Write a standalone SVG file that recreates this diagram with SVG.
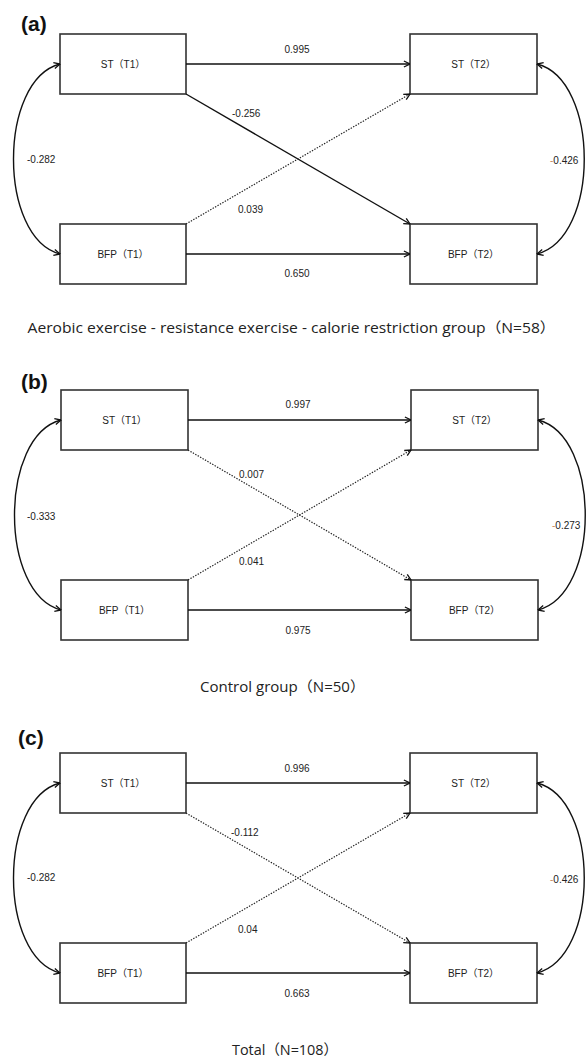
<svg xmlns="http://www.w3.org/2000/svg" width="587" height="1064" viewBox="0 0 587 1064">
<style>
text{font-family:"Liberation Sans","Noto Sans CJK SC",sans-serif;fill:#222}
.box{fill:#fff;stroke:#333;stroke-width:1.6}
.nl{font-size:10px;text-anchor:middle}
.el{font-size:10px}
.elm{font-size:10px;text-anchor:middle}
.cap{font-family:"Open Sans","Noto Sans CJK SC",sans-serif;font-size:14.5px;text-anchor:middle}
.pl{font-size:21px;font-weight:bold;fill:#111}
.solid{fill:none;stroke:#111;stroke-width:1.4}
.dot{fill:none;stroke:#222;stroke-width:1.2;stroke-dasharray:1.4 1.4}
.arrS{marker-end:url(#arr)}
.arrD{marker-end:url(#arr)}
.curve{fill:none;stroke:#111;stroke-width:1.4;marker-start:url(#arr);marker-end:url(#arr)}
.neg{fill:#c98a5c}
</style>
<defs>
<marker id="arr" viewBox="0 0 8 8" refX="7.6" refY="4" markerWidth="8" markerHeight="8" markerUnits="userSpaceOnUse" orient="auto-start-reverse">
<path d="M1.5,1 L7.6,4 L1.5,7" fill="none" stroke="#111" stroke-width="1.3"/>
</marker>
</defs>

<!-- Panel (a) -->
<text class="pl" x="21" y="31">(a)</text>
<g id="a-st1"><rect class="box" x="60" y="34" width="126" height="60"/><text class="nl" x="123" y="67.5">ST（T1）</text></g>
<g id="a-st2"><rect class="box" x="410" y="34" width="127" height="60"/><text class="nl" x="473.5" y="67.5">ST（T2）</text></g>
<g id="a-bfp1"><rect class="box" x="60" y="224" width="126" height="60"/><text class="nl" x="123" y="257.5">BFP（T1）</text></g>
<g id="a-bfp2"><rect class="box" x="410" y="224" width="127" height="60"/><text class="nl" x="473.5" y="257.5">BFP（T2）</text></g>
<g id="a-connectors">
<path class="solid arrS" d="M186,64 L410,64"/>
<path class="solid arrS" d="M186,254 L410,254"/>
<path class="solid arrS" d="M186,94 L410,224"/>
<path class="dot arrD" d="M186,224 L410,94"/>
<path class="curve" d="M60,64 C -2,80 -2,238 60,254"/>
<path class="curve" d="M537,64 C 600,80 600,238 537,254"/>
<text class="elm" x="297" y="53">0.995</text>
<text class="elm" x="297" y="277">0.650</text>
<text class="el" x="232" y="117">-0.256</text>
<text class="el" x="238" y="213">0.039</text>
<text class="el" x="27" y="163">-0.282</text>
<text class="el" x="550" y="164"><tspan class="neg">-</tspan>0.426</text>
</g>
<text class="cap" x="291.5" y="333" textLength="528" lengthAdjust="spacingAndGlyphs">Aerobic exercise - resistance exercise - calorie restriction group（N=58）</text>

<!-- Panel (b) -->
<text class="pl" x="21" y="389">(b)</text>
<g id="b-st1"><rect class="box" x="61" y="390" width="127" height="60"/><text class="nl" x="124.5" y="423.5">ST（T1）</text></g>
<g id="b-st2"><rect class="box" x="411" y="390" width="127" height="60"/><text class="nl" x="474.5" y="423.5">ST（T2）</text></g>
<g id="b-bfp1"><rect class="box" x="61" y="580" width="127" height="60"/><text class="nl" x="124.5" y="613.5">BFP（T1）</text></g>
<g id="b-bfp2"><rect class="box" x="411" y="580" width="127" height="60"/><text class="nl" x="474.5" y="613.5">BFP（T2）</text></g>
<g id="b-connectors">
<path class="solid arrS" d="M188,420 L411,420"/>
<path class="solid arrS" d="M188,610 L411,610"/>
<path class="dot arrD" d="M188,450 L411,580"/>
<path class="dot arrD" d="M188,580 L411,450"/>
<path class="curve" d="M61,420 C -1,436 -1,594 61,610"/>
<path class="curve" d="M538,420 C 601,436 601,594 538,610"/>
<text class="elm" x="298" y="408">0.997</text>
<text class="elm" x="298" y="634">0.975</text>
<text class="el" x="239" y="478">0.007</text>
<text class="el" x="239" y="565">0.041</text>
<text class="el" x="27" y="520">-0.333</text>
<text class="el" x="552" y="529"><tspan class="neg">-</tspan>0.273</text>
</g>
<text class="cap" x="282.5" y="692" textLength="165" lengthAdjust="spacingAndGlyphs">Control group（N=50）</text>

<!-- Panel (c) -->
<text class="pl" x="18" y="745">(c)</text>
<g id="c-st1"><rect class="box" x="60" y="753" width="126" height="60"/><text class="nl" x="123" y="786.5">ST（T1）</text></g>
<g id="c-st2"><rect class="box" x="410" y="753" width="127" height="60"/><text class="nl" x="473.5" y="786.5">ST（T2）</text></g>
<g id="c-bfp1"><rect class="box" x="60" y="943" width="126" height="60"/><text class="nl" x="123" y="976.5">BFP（T1）</text></g>
<g id="c-bfp2"><rect class="box" x="410" y="943" width="127" height="60"/><text class="nl" x="473.5" y="976.5">BFP（T2）</text></g>
<g id="c-connectors">
<path class="solid arrS" d="M186,783 L410,783"/>
<path class="solid arrS" d="M186,973 L410,973"/>
<path class="dot arrD" d="M186,813 L410,943"/>
<path class="dot arrD" d="M186,943 L410,813"/>
<path class="curve" d="M60,783 C -2,799 -2,957 60,973"/>
<path class="curve" d="M537,783 C 600,799 600,957 537,973"/>
<text class="elm" x="297" y="772">0.996</text>
<text class="elm" x="297" y="997">0.663</text>
<text class="el" x="231" y="836">-0.112</text>
<text class="el" x="238" y="933">0.04</text>
<text class="el" x="27" y="881">-0.282</text>
<text class="el" x="550" y="883"><tspan class="neg">-</tspan>0.426</text>
</g>
<text class="cap" x="285" y="1055" textLength="106" lengthAdjust="spacingAndGlyphs">Total（N=108）</text>
</svg>
